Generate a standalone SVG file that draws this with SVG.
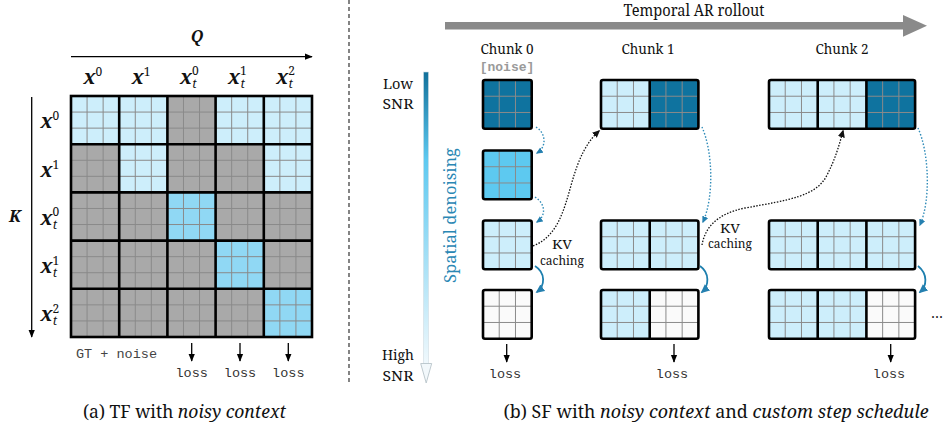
<svg xmlns="http://www.w3.org/2000/svg" width="947" height="430" viewBox="0 0 947 430">
<style>
.lb{fill:#cdeefb}.gr{fill:#a9a9a9}.mb{fill:#90d8f4}.db{fill:#0f739f}.cb{fill:#5dc9f0}.wh{fill:#fafafa}
.sub{fill:none;stroke:#8a8a8a;stroke-width:1}
.fr{fill:none;stroke:#000;stroke-width:2.6}
.dv{fill:none;stroke:#000;stroke-width:2.6}
.m{font-weight:bold;font-style:italic;font-size:20px;fill:#111}
.sp{font-weight:normal;font-style:normal;font-size:12px;fill:#111}
.st{font-weight:normal;font-style:italic;font-size:12px;fill:#111}
.ax{font-weight:bold;font-style:italic;font-size:16px;fill:#111}
.mono{font-size:13.5px;fill:#333}
.cap{font-size:18px;fill:#111}
.blk{fill:none;stroke:#000;stroke-width:1.3}
.bd{fill:none;stroke:#2f8bb8;stroke-width:1.4;stroke-dasharray:1.5 1.8}
.bs{fill:none;stroke:#1d7fae;stroke-width:1.8}
.kd{fill:none;stroke:#111;stroke-width:1.3;stroke-dasharray:1.5 1.5}
</style>
<defs>
<marker id="ak" viewBox="0 0 10 10" refX="9" refY="5" markerWidth="6" markerHeight="6" orient="auto"><path d="M0,1L10,5L0,9z" fill="#000"/></marker>
<marker id="ab" viewBox="0 0 10 10" refX="8" refY="5" markerWidth="5" markerHeight="5" orient="auto"><path d="M0,0.5L10,5L0,9.5z" fill="#2580b0"/></marker>
<marker id="ak2" viewBox="0 0 10 10" refX="8" refY="5" markerWidth="6" markerHeight="6" orient="auto"><path d="M0,0.5L10,5L0,9.5z" fill="#111"/></marker>
<path id="sg" class="sub" d="M16.23 0V48.7M32.47 0V48.7M0 16.23H48.7M0 32.47H48.7"/>
<linearGradient id="grad" x1="0" y1="0" x2="0" y2="1">
<stop offset="0" stop-color="#11709a"/><stop offset="0.3" stop-color="#5ec9f0"/><stop offset="1" stop-color="#f0f8fc"/>
</linearGradient>
</defs>
<rect width="947" height="430" fill="#fff"/>

<g id="matrix">
<g id="m-row0">
<rect class="lb" x="71" y="96" width="48.2" height="48.2"/><rect class="lb" x="119.2" y="96" width="48.2" height="48.2"/><rect class="gr" x="167.4" y="96" width="48.2" height="48.2"/><rect class="lb" x="215.6" y="96" width="48.2" height="48.2"/><rect class="lb" x="263.8" y="96" width="48.2" height="48.2"/>
</g>
<g id="m-row1">
<rect class="gr" x="71" y="144.2" width="48.2" height="48.2"/><rect class="lb" x="119.2" y="144.2" width="48.2" height="48.2"/><rect class="gr" x="167.4" y="144.2" width="48.2" height="48.2"/><rect class="gr" x="215.6" y="144.2" width="48.2" height="48.2"/><rect class="lb" x="263.8" y="144.2" width="48.2" height="48.2"/>
</g>
<g id="m-row2">
<rect class="gr" x="71" y="192.4" width="48.2" height="48.2"/><rect class="gr" x="119.2" y="192.4" width="48.2" height="48.2"/><rect class="mb" x="167.4" y="192.4" width="48.2" height="48.2"/><rect class="gr" x="215.6" y="192.4" width="48.2" height="48.2"/><rect class="gr" x="263.8" y="192.4" width="48.2" height="48.2"/>
</g>
<g id="m-row3">
<rect class="gr" x="71" y="240.6" width="48.2" height="48.2"/><rect class="gr" x="119.2" y="240.6" width="48.2" height="48.2"/><rect class="gr" x="167.4" y="240.6" width="48.2" height="48.2"/><rect class="mb" x="215.6" y="240.6" width="48.2" height="48.2"/><rect class="gr" x="263.8" y="240.6" width="48.2" height="48.2"/>
</g>
<g id="m-row4">
<rect class="gr" x="71" y="288.8" width="48.2" height="48.2"/><rect class="gr" x="119.2" y="288.8" width="48.2" height="48.2"/><rect class="gr" x="167.4" y="288.8" width="48.2" height="48.2"/><rect class="gr" x="215.6" y="288.8" width="48.2" height="48.2"/><rect class="mb" x="263.8" y="288.8" width="48.2" height="48.2"/>
</g>
<path class="sub" d="M87.07 96V337M103.13 96V337M135.27 96V337M151.33 96V337M183.47 96V337M199.53 96V337M231.67 96V337M247.73 96V337M279.87 96V337M295.93 96V337M71 112.07H312M71 128.13H312M71 160.27H312M71 176.33H312M71 208.47H312M71 224.53H312M71 256.67H312M71 272.73H312M71 304.87H312M71 320.93H312"/>
<path class="dv" d="M119.2 96V337M167.4 96V337M215.6 96V337M263.8 96V337M71 144.2H312M71 192.4H312M71 240.6H312M71 288.8H312"/>
<rect class="fr" x="71" y="96" width="241" height="241"/>
</g>

<g font-family="Noto Serif">
<g id="q-axis"><text class="ax" x="197" y="42" text-anchor="middle">Q</text></g>
<g id="k-axis"><text class="ax" x="15" y="222" text-anchor="middle">K</text></g>
<g id="col-labels">
<text class="m" x="83.5" y="83.5">x</text><text class="sp" x="95.5" y="75.5">0</text>
<text class="m" x="131.7" y="83.5">x</text><text class="sp" x="143.7" y="75.5">1</text>
<text class="m" x="179.9" y="83.5">x</text><text class="sp" x="191.9" y="75">0</text><text class="st" x="192.2" y="87.5">t</text>
<text class="m" x="228.1" y="83.5">x</text><text class="sp" x="240.1" y="75">1</text><text class="st" x="240.4" y="87.5">t</text>
<text class="m" x="276.3" y="83.5">x</text><text class="sp" x="288.3" y="75">2</text><text class="st" x="288.6" y="87.5">t</text>
</g>
<g id="row-labels">
<text class="m" x="40.5" y="127.5">x</text><text class="sp" x="52.5" y="119.5">0</text>
<text class="m" x="40.5" y="176.5">x</text><text class="sp" x="52.5" y="168.5">1</text>
<text class="m" x="40.5" y="224.5">x</text><text class="sp" x="52.5" y="216">0</text><text class="st" x="52.8" y="228.5">t</text>
<text class="m" x="40.5" y="273">x</text><text class="sp" x="52.5" y="264.5">1</text><text class="st" x="52.8" y="277">t</text>
<text class="m" x="40.5" y="321">x</text><text class="sp" x="52.5" y="312.5">2</text><text class="st" x="52.8" y="325">t</text>
</g>

<text class="cap" x="184.5" y="418" text-anchor="middle" textLength="203" lengthAdjust="spacingAndGlyphs">(a) TF with <tspan font-style="italic">noisy context</tspan></text>
<g id="rollout">
<rect x="445" y="22" width="459" height="7.5" fill="#8a8a8a"/>
<polygon points="903,15 927,25.7 903,36.7" fill="#8a8a8a"/>
<text x="694" y="15.5" font-size="15.5" fill="#111" text-anchor="middle" textLength="141" lengthAdjust="spacingAndGlyphs">Temporal AR rollout</text>
</g>
<g id="snr-axis">
<rect x="423.5" y="72" width="5" height="292" fill="url(#grad)" stroke="#d0dde3" stroke-width="0.6"/>
<polygon points="420.7,363.5 431.7,363.5 426.2,383" fill="#f2f8fb" stroke="#b8c4ca" stroke-width="0.9"/>
<text x="398" y="89" font-size="14.5" fill="#111" text-anchor="middle" textLength="30" lengthAdjust="spacingAndGlyphs">Low</text>
<text x="398" y="109" font-size="14.5" fill="#111" text-anchor="middle" textLength="31" lengthAdjust="spacingAndGlyphs">SNR</text>
<text x="398" y="360" font-size="14.5" fill="#111" text-anchor="middle" textLength="32" lengthAdjust="spacingAndGlyphs">High</text>
<text x="398" y="381" font-size="14.5" fill="#111" text-anchor="middle" textLength="31" lengthAdjust="spacingAndGlyphs">SNR</text>
<text font-size="17" fill="#2a87b4" text-anchor="middle" transform="translate(456,215.5) rotate(-90)" textLength="135" lengthAdjust="spacingAndGlyphs">Spatial denoising</text>
</g>
<g id="chunk-labels">
<text x="507" y="54" font-size="14" fill="#111" text-anchor="middle" textLength="53" lengthAdjust="spacingAndGlyphs">Chunk 0</text>
<text x="648" y="54" font-size="14" fill="#111" text-anchor="middle" textLength="53" lengthAdjust="spacingAndGlyphs">Chunk 1</text>
<text x="842" y="54" font-size="14" fill="#111" text-anchor="middle" textLength="53" lengthAdjust="spacingAndGlyphs">Chunk 2</text>
</g>
<g id="kv-labels">
<text x="562" y="249" font-size="13" fill="#111" text-anchor="middle" textLength="20" lengthAdjust="spacingAndGlyphs">KV</text>
<text x="562" y="265" font-size="13" fill="#111" text-anchor="middle" textLength="44" lengthAdjust="spacingAndGlyphs">caching</text>
<text x="730" y="233" font-size="13" fill="#111" text-anchor="middle" textLength="20" lengthAdjust="spacingAndGlyphs">KV</text>
<text x="730" y="248" font-size="13" fill="#111" text-anchor="middle" textLength="44" lengthAdjust="spacingAndGlyphs">caching</text>
</g>
<text x="931" y="318" font-size="14" fill="#111">…</text>
<text class="cap" x="716" y="418" text-anchor="middle" textLength="425" lengthAdjust="spacingAndGlyphs">(b) SF with <tspan font-style="italic">noisy context</tspan> and <tspan font-style="italic">custom step schedule</tspan></text>
</g>

<g id="a-bottom">
<text class="mono" font-family="Liberation Mono" x="76" y="358" style="fill:#444">GT + noise</text>
<text class="mono" font-family="Liberation Mono" x="191.7" y="377" text-anchor="middle">loss</text>
<text class="mono" font-family="Liberation Mono" x="240" y="377" text-anchor="middle">loss</text>
<text class="mono" font-family="Liberation Mono" x="288.3" y="377" text-anchor="middle">loss</text>
</g>
<g id="b-bottom-loss">
<text class="mono" font-family="Liberation Mono" x="505" y="378" text-anchor="middle">loss</text>
<text class="mono" font-family="Liberation Mono" x="672" y="378" text-anchor="middle">loss</text>
<text class="mono" font-family="Liberation Mono" x="889" y="378" text-anchor="middle">loss</text>
</g>
<text font-family="Liberation Mono" x="507" y="71" text-anchor="middle" font-weight="bold" font-size="13" fill="#9a9a9a">[noise]</text>

<line x1="349" y1="0" x2="349" y2="385" stroke="#333" stroke-width="1.2" stroke-dasharray="4 3"/>

<g id="chunk0-r1"><rect class="db" x="483" y="80" width="48.7" height="48.7"/><use href="#sg" x="483" y="80"/><rect class="fr" x="483" y="80" width="48.7" height="48.7" rx="2"/></g>
<g id="chunk0-r2"><rect class="cb" x="483" y="150.5" width="48.7" height="48.7"/><use href="#sg" x="483" y="150.5"/><rect class="fr" x="483" y="150.5" width="48.7" height="48.7" rx="2"/></g>
<g id="chunk0-r3"><rect class="lb" x="483" y="220.5" width="48.7" height="48.7"/><use href="#sg" x="483" y="220.5"/><rect class="fr" x="483" y="220.5" width="48.7" height="48.7" rx="2"/></g>
<g id="chunk0-r4"><rect class="wh" x="483" y="290" width="48.7" height="48.7"/><use href="#sg" x="483" y="290"/><rect class="fr" x="483" y="290" width="48.7" height="48.7" rx="2"/></g>

<g id="chunk1-r1"><rect class="lb" x="601" y="80" width="48.7" height="48.7"/><rect class="db" x="649.7" y="80" width="48.7" height="48.7"/><use href="#sg" x="601" y="80"/><use href="#sg" x="649.7" y="80"/><path class="dv" d="M649.7 80V128.7"/><rect class="fr" x="601" y="80" width="97.4" height="48.7" rx="2"/></g>
<g id="chunk1-r3"><rect class="lb" x="601" y="220.5" width="97.4" height="48.7"/><use href="#sg" x="601" y="220.5"/><use href="#sg" x="649.7" y="220.5"/><path class="dv" d="M649.7 220.5V269.2"/><rect class="fr" x="601" y="220.5" width="97.4" height="48.7" rx="2"/></g>
<g id="chunk1-r4"><rect class="lb" x="601" y="290" width="48.7" height="48.7"/><rect class="wh" x="649.7" y="290" width="48.7" height="48.7"/><use href="#sg" x="601" y="290"/><use href="#sg" x="649.7" y="290"/><path class="dv" d="M649.7 290V338.7"/><rect class="fr" x="601" y="290" width="97.4" height="48.7" rx="2"/></g>

<g id="chunk2-r1"><rect class="lb" x="769" y="80" width="97.4" height="48.7"/><rect class="db" x="866.4" y="80" width="48.7" height="48.7"/><use href="#sg" x="769" y="80"/><use href="#sg" x="817.7" y="80"/><use href="#sg" x="866.4" y="80"/><path class="dv" d="M817.7 80V128.7M866.4 80V128.7"/><rect class="fr" x="769" y="80" width="146.1" height="48.7" rx="2"/></g>
<g id="chunk2-r3"><rect class="lb" x="769" y="220.5" width="146.1" height="48.7"/><use href="#sg" x="769" y="220.5"/><use href="#sg" x="817.7" y="220.5"/><use href="#sg" x="866.4" y="220.5"/><path class="dv" d="M817.7 220.5V269.2M866.4 220.5V269.2"/><rect class="fr" x="769" y="220.5" width="146.1" height="48.7" rx="2"/></g>
<g id="chunk2-r4"><rect class="lb" x="769" y="290" width="97.4" height="48.7"/><rect class="wh" x="866.4" y="290" width="48.7" height="48.7"/><use href="#sg" x="769" y="290"/><use href="#sg" x="817.7" y="290"/><use href="#sg" x="866.4" y="290"/><path class="dv" d="M817.7 290V338.7M866.4 290V338.7"/><rect class="fr" x="769" y="290" width="146.1" height="48.7" rx="2"/></g>

<g id="connectors">
<line class="blk" x1="71" y1="56.7" x2="312" y2="56.7" marker-end="url(#ak)"/>
<line class="blk" x1="31.7" y1="97" x2="31.7" y2="337" marker-end="url(#ak)"/>
<line class="blk" x1="191.7" y1="343" x2="191.7" y2="361" marker-end="url(#ak)"/>
<line class="blk" x1="240" y1="343" x2="240" y2="361" marker-end="url(#ak)"/>
<line class="blk" x1="288.3" y1="343" x2="288.3" y2="361" marker-end="url(#ak)"/>
<line class="blk" x1="506.7" y1="344" x2="506.7" y2="362" marker-end="url(#ak)"/>
<line class="blk" x1="674" y1="344" x2="674" y2="362" marker-end="url(#ak)"/>
<line class="blk" x1="890.7" y1="344" x2="890.7" y2="362" marker-end="url(#ak)"/>
<path class="bd" d="M536 127C546 133 547 147 537 153" marker-end="url(#ab)"/>
<path class="bd" d="M535 197C546 204 546 216 537 222" marker-end="url(#ab)"/>
<path class="bd" d="M702 127C713 152 714 197 703 222" marker-end="url(#ab)"/>
<path class="bd" d="M918 128C929 152 931 200 920 225" marker-end="url(#ab)"/>
<path class="bs" d="M535 266C546 273 545 286 537 292" marker-end="url(#ab)"/>
<path class="bs" d="M700 266C710 273 709 286 702 292" marker-end="url(#ab)"/>
<path class="bs" d="M918 266C928 274 927 286 920 292" marker-end="url(#ab)"/>
<path class="kd" d="M533 246C558 236 564 210 572 182C579 158 586 143 599 131" marker-end="url(#ak2)"/>
<path class="kd" d="M702 245C705 228 716 214 745 208C790 200 815 196 826 177C835 160 839 146 843 131" marker-end="url(#ak2)"/>
</g>
</svg>
